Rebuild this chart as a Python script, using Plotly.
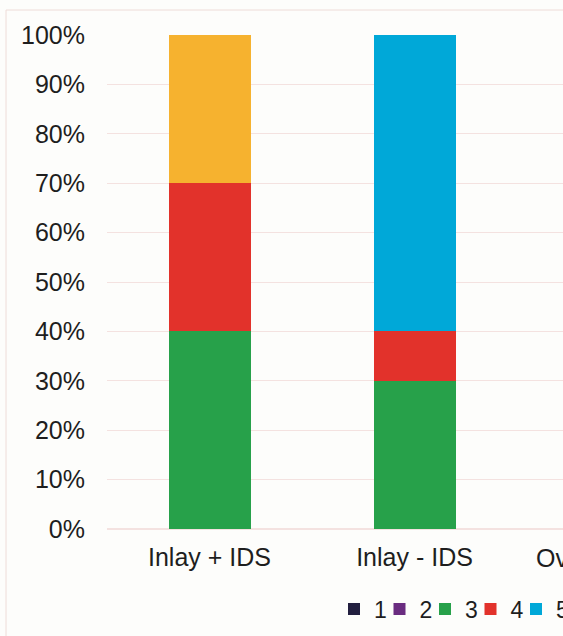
import plotly.graph_objects as go

# ---- data ----
categories = ["Inlay + IDS", "Inlay - IDS", "Overlay + IDS"]
series_names = ["1", "2", "3", "4", "5", "6"]
series_1 = [0, 0, None]
series_2 = [0, 0, None]
series_3 = [40, 30, None]
series_4 = [30, 10, None]
series_5 = [0, 60, None]
series_6 = [30, 0, None]
series_values = [series_1, series_2, series_3, series_4, series_5, series_6]
y_tick_values = [0, 10, 20, 30, 40, 50, 60, 70, 80, 90, 100]
y_tick_labels = [f"{v}%" for v in y_tick_values]

# ---- style ----
colors = ["#221f3f", "#6a2c80", "#27a14a", "#e2322b", "#00a8d8", "#f6b22f"]
FONT = "Liberation Sans, Arial, sans-serif"
TEXT = "#1e1e1e"
GRID = "#f4e2e0"
W, H = 563, 636
ML, MT, MB = 107, 35, 107
plot_w = W - ML
plot_h = H - MT - MB
cat_px = 205.0
x_min = -0.5
x_max = x_min + plot_w / cat_px

fig = go.Figure()
for name, vals, col in zip(series_names, series_values, colors):
    fig.add_trace(go.Bar(
        x=categories, y=vals, name=name, marker=dict(color=col, line=dict(width=0)),
        hoverinfo="skip",
    ))

# label of the category that lies beyond the visible plot width
fig.add_annotation(
    x=(2 - x_min) / (x_max - x_min), y=0, xref="paper", yref="paper",
    xanchor="center", yanchor="top", yshift=-13, xshift=-6, showarrow=False,
    text=categories[2], font=dict(family=FONT, size=25, color=TEXT),
)

fig.add_shape(type="rect", xref="paper", yref="paper",
              x0=(6 - ML) / plot_w, x1=1.3,
              y0=(H - MB - 10) / plot_h, y1=(H - MB - 660) / plot_h,
              line=dict(color="#eedcd8", width=1), fillcolor="rgba(0,0,0,0)", layer="below")

fig.update_layout(
    width=W, height=H,
    margin=dict(l=ML, r=0, t=MT, b=MB, pad=0, autoexpand=False),
    paper_bgcolor="#fdfdfb", plot_bgcolor="#fdfdfb",
    barmode="stack", bargap=0.6,
    font=dict(family=FONT, size=25, color=TEXT),
    showlegend=True,
    legend=dict(orientation="h", traceorder="normal", x=(334 - ML) / plot_w, xanchor="left",
                y=(H - MB - 609) / plot_h, yanchor="middle",
                entrywidth=0.5, font=dict(family=FONT, size=23, color=TEXT),
                bgcolor="rgba(0,0,0,0)", itemclick=False),
    xaxis=dict(range=[x_min, x_max], showgrid=False, showline=False, zeroline=False,
               ticks="", ticklabelstandoff=11, tickfont=dict(family=FONT, size=25, color=TEXT),
               fixedrange=True),
    yaxis=dict(range=[0, 100], tickvals=y_tick_values, ticktext=y_tick_labels,
               showgrid=True, gridcolor=GRID, gridwidth=1, zeroline=True, zerolinecolor=GRID,
               showline=False, ticks="", ticklabelstandoff=21,
               tickfont=dict(family=FONT, size=25, color=TEXT), fixedrange=True),
)

fig.write_html("out.html", config={"displayModeBar": False},
               post_script="document.body.style.margin='0';document.body.style.overflow='hidden';")
